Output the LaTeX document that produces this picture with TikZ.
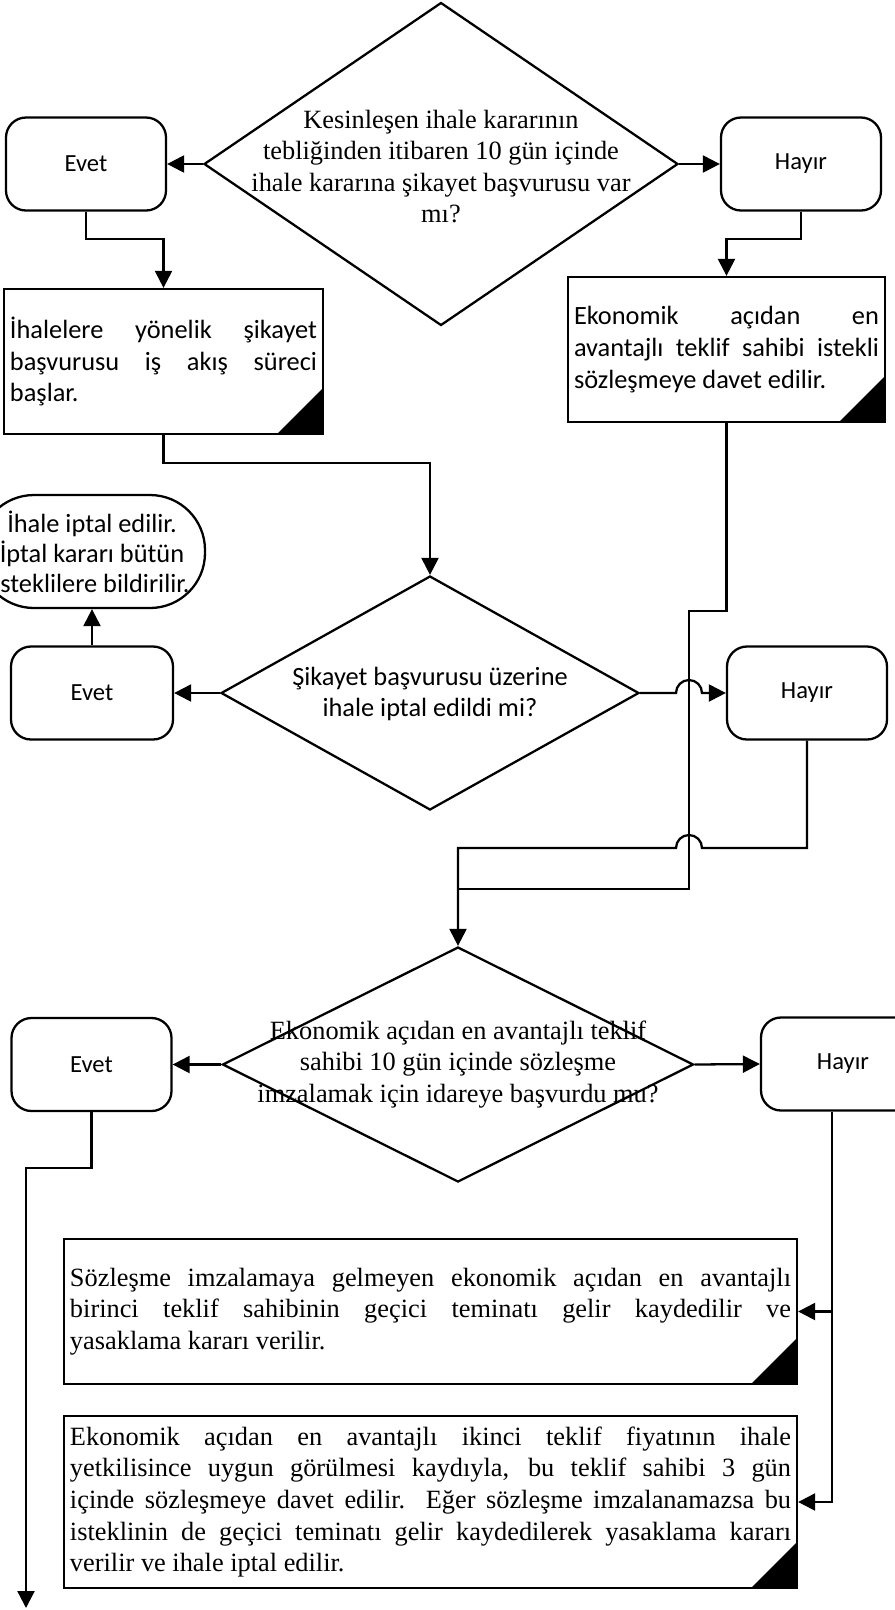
\documentclass[tikz,border=0pt]{standalone}
\usepackage{fontspec}
\setmainfont{Liberation Serif}
\newfontfamily\calibri{Carlito}
\usepackage{tikz}
\usetikzlibrary{shapes.geometric,arrows.meta,calc}
\tolerance=10000
\hbadness=10000

\begin{document}
\begin{tikzpicture}[
    decision/.style={diamond, draw, line width=1.3pt, inner sep=0pt},
    qtext/.style={align=center, font=\fontsize{15}{18}\selectfont},
    cqtext/.style={align=center, font=\calibri\fontsize{15}{18}\selectfont},
    answer/.style={rectangle, draw, line width=1.3pt, rounded corners=0.4cm,
                   minimum width=3.2cm, minimum height=1.86cm, font=\calibri\fontsize{14}{17}\selectfont},
    terminal/.style={rectangle, draw, line width=1.3pt, rounded corners=1.1cm,
                     minimum width=4.52cm, minimum height=2.26cm, align=center,
                     font=\calibri\fontsize{15}{17}\selectfont},
    doc/.style={rectangle, draw, line width=1.3pt, inner xsep=0.12cm, inner ysep=0pt,
                align=justify, minimum height=2.9cm,
                path picture={\fill (path picture bounding box.south east) -- ++(-0.92,0) -- ++(0.92,0.92) -- cycle;}},
    line/.style={line width=1.3pt},
    arrow/.style={line width=1.3pt, -{Triangle[length=0.34cm, width=0.34cm]}}
]
\useasboundingbox (0,0) rectangle (17.9,-32.2);

% First question
\node[decision, minimum width=9.48cm, minimum height=6.46cm] (q1) at (8.82,-3.28) {};
\node[qtext] (q1txt) at (8.82,-3.33) {Kesinleşen ihale kararının\\tebliğinden itibaren 10 gün içinde\\ihale kararına şikayet başvurusu var\\mı?};
\node[answer] (yes1) at (1.72,-3.28) {Evet};
\node[answer] (no1) at (16.02,-3.28) {Hayır};

\node[doc, text width=6.14cm, font=\calibri\fontsize{15}{18}\selectfont] (start1) at (3.27,-7.23)
    {İhalelere yönelik şikayet\linebreak başvurusu iş akış süreci\linebreak başlar.};
\node[doc, text width=6.10cm, font=\calibri\fontsize{15}{18}\selectfont] (invite1) at (14.53,-6.99)
    {Ekonomik açıdan en\linebreak avantajlı teklif sahibi istekli\linebreak sözleşmeye davet edilir.};

% Second question
\node[terminal] (cancel) at (1.84,-11.03) {İhale iptal edilir.\\İptal kararı bütün\\isteklilere bildirilir.};
\node[decision, minimum width=8.36cm, minimum height=4.68cm] (q2) at (8.6,-13.86) {};
\node[cqtext] (q2txt) at (8.6,-13.88) {Şikayet başvurusu üzerine\\ihale iptal edildi mi?};
\node[answer, minimum width=3.24cm] (yes2) at (1.84,-13.86) {Evet};
\node[answer] (no2) at (16.14,-13.86) {Hayır};

% Third question
\node[decision, minimum width=9.42cm, minimum height=4.7cm] (q3) at (9.16,-21.29) {};
\node[qtext] (q3txt) at (9.16,-21.29) {Ekonomik açıdan en avantajlı teklif\\sahibi 10 gün içinde sözleşme\\imzalamak için idareye başvurdu mu?};
\node[answer] (yes3) at (1.83,-21.29) {Evet};
\node[answer, minimum width=3.28cm] (no3) at (16.86,-21.28) {Hayır};

\node[doc, text width=14.42cm, font=\fontsize{15}{18}\selectfont] (forfeit) at (8.61,-26.23)
    {Sözleşme imzalamaya gelmeyen ekonomik açıdan en avantajlı\linebreak birinci teklif sahibinin geçici teminatı gelir kaydedilir ve\linebreak yasaklama kararı verilir.};
\node[doc, text width=14.42cm, minimum height=3.44cm, font=\fontsize{15}{18}\selectfont] (second) at (8.61,-30.04)
    {Ekonomik açıdan en avantajlı ikinci teklif fiyatının ihale\linebreak yetkilisince uygun görülmesi kaydıyla, bu teklif sahibi 3 gün\linebreak içinde sözleşmeye davet edilir. Eğer sözleşme imzalanamazsa bu\linebreak isteklinin de geçici teminatı gelir kaydedilerek yasaklama kararı\linebreak verilir ve ihale iptal edilir.};

% Bends and hops
\coordinate (cross) at (13.78,-12.22);
\coordinate (merge) at (9.16,-17.78);
\coordinate (hopA) at (13.78,-13.86);
\coordinate (hopB) at (13.78,-16.96);
\coordinate (rail) at ([xshift=-0.22cm]no3.south);
\coordinate (exit) at (0.52,-32.16);

% Connectors
\draw[arrow] (q1.west) -- (yes1.east);
\draw[arrow] (q1.east) -- (no1.west);
\draw[arrow] (yes1.south) -- ++(0,-0.54) -| (start1.north);
\draw[arrow] (no1.south) -- ++(0,-0.54) -| (invite1.north);
\draw[arrow] (start1.south) -- ++(0,-0.56) -| (q2.north);

\draw[arrow] (q2.west) -- (yes2.east);
\draw[arrow] (yes2.north) -- (cancel.south);
\draw[arrow] (q2.east) -- ($(hopA)+(-0.26,0)$) arc[start angle=180, end angle=0, radius=0.26] -- (no2.west);
\draw[line] (invite1.south) |- (cross) -- (cross |- merge) -- (merge);
\draw[arrow] (no2.south) |- ($(hopB)+(0.26,0)$) arc[start angle=0, end angle=180, radius=0.26] -| (q3.north);

\draw[arrow] (q3.west) -- (yes3.east);
\draw[arrow] (q3.east) -- (no3.west);
\draw[arrow] (yes3.south) -- ++(0,-1.12) -| (exit);
\draw[arrow] (rail) |- (forfeit.east);
\draw[arrow] (rail) |- (second.east);

\end{tikzpicture}
\end{document}
